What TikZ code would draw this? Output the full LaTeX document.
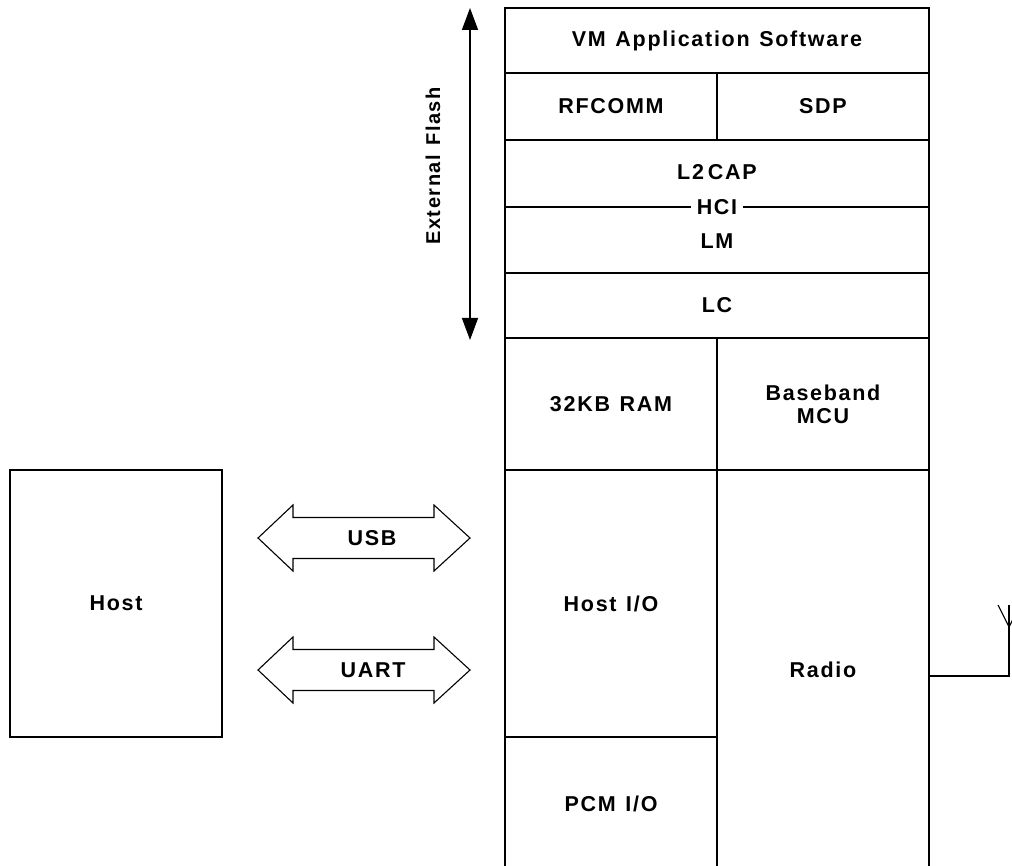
\documentclass[tikz,border=0pt]{standalone}
\usepackage{fontspec}
\setmainfont{Liberation Sans}[LetterSpace=8,WordSpace=1.25]
\usetikzlibrary{arrows.meta,calc}
\begin{document}
\begin{tikzpicture}[x=1pt,y=-1pt,
  font=\fontsize{21.5}{25}\selectfont\bfseries,
  blk/.style={draw=black,line width=1.5pt,inner sep=0pt,minimum width=#1},
  lbl/.style={inner sep=0pt,align=center},
  dblarrow/.pic={\draw[line width=1.1pt,line join=miter]
     (-106,0) -- (-71,-33) -- (-71,-20.5) -- (70,-20.5) -- (70,-33) -- (106,0)
     -- (70,33) -- (70,20.5) -- (-71,20.5) -- (-71,33) -- cycle;}]
\useasboundingbox (0,0) rectangle (1012,866);
% main stack
\node[blk=424pt,minimum height=65pt] (vm) at (717,40.5) {VM Application Software};
\node[blk=212pt,minimum height=67pt] (rfcomm) at (611,106.5) {RFCOMM};
\node[blk=212pt,minimum height=67pt] (sdp) at (823,106.5) {SDP};
\node[blk=424pt,minimum height=133pt] (stack) at (717,206.5) {};
\node[lbl] (l2cap) at (717,172) {L2\kern4pt CAP};
\node[lbl,inner xsep=6pt] (hci) at (717,207) {HCI};
\node[lbl] (lm) at (717,241) {LM};
\draw[line width=1.5pt] (stack.west |- hci) -- (hci.west);
\draw[line width=1.5pt] (hci.east) -- (stack.east |- hci);
\node[blk=424pt,minimum height=65pt] (lc) at (717,305.5) {LC};
\node[blk=212pt,minimum height=132pt] (ram) at (611,404) {32KB RAM};
\node[blk=212pt,minimum height=132pt,align=center] (bb) at (823,404) {Baseband\\[-2pt]MCU};
\node[blk=212pt,minimum height=267pt] (hostio) at (611,603.5) {Host I/O};
\node[blk=212pt,minimum height=133pt] (pcm) at (611,803.5) {PCM I/O};
\node[blk=212pt,minimum height=400pt] (radio) at (823,670) {Radio};
% host
\node[blk=212pt,minimum height=267pt] (host) at (116,603.5) {Host};
% external flash arrow
\coordinate (ftop) at (470,8);
\coordinate (fbot) at (470,340);
\draw[line width=1.5pt,{Triangle[length=22pt,width=16pt]}-{Triangle[length=22pt,width=16pt]}] (ftop) -- (fbot);
\node[lbl,rotate=90,font=\fontsize{20}{24}\selectfont\bfseries] (flash) at (433,166) {External Flash};
% bus arrows
\pic at (364,538) {dblarrow};
\node[lbl] (usb) at (372,538) {USB};
\pic at (364,670) {dblarrow};
\node[lbl] (uart) at (373,670) {UART};
% antenna
\coordinate (antfoot) at (1009,676);
\coordinate (antjoin) at (1009,627);
\coordinate (anttop) at (1009,605);
\draw[line width=1.1pt] (radio.east |- antfoot) -- (antfoot) -- (anttop);
\draw[line width=1.1pt] ($(antjoin)+(-11,-22)$) -- (antjoin) -- ($(antjoin)+(11,-22)$);
\end{tikzpicture}
\end{document}
